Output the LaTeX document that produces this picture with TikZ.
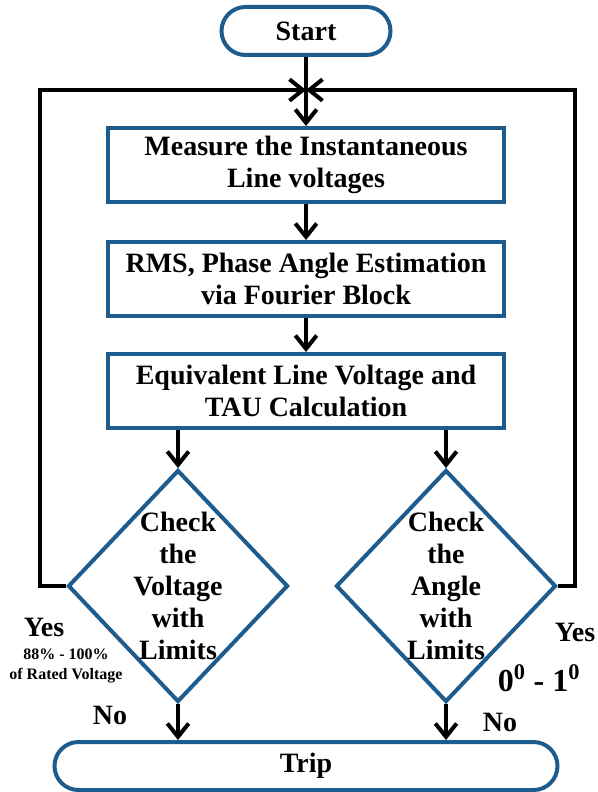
\documentclass[tikz,border=0pt]{standalone}
\usepackage{fontspec}
\setmainfont{Liberation Serif}
\usepackage{tikz}
\usetikzlibrary{shapes.geometric, arrows.meta, positioning, calc}
\definecolor{flowblue}{RGB}{31, 92, 142}

\tikzset{
    txt/.style={font=\bfseries\fontsize{21}{23.5}\selectfont, align=center},
    terminal/.style={draw=flowblue, line width=3pt, rounded corners=18pt,
        minimum height=36pt, inner sep=0pt, txt},
    process/.style={draw=flowblue, line width=3pt, minimum width=297pt,
        minimum height=55.5pt, inner sep=0pt, txt},
    decision/.style={diamond, draw=flowblue, line width=3pt, inner sep=0pt,
        minimum width=165pt, minimum height=174pt},
    flow/.style={line width=3pt, -{Straight Barb[length=10pt, width=16pt]}}
}

\begin{document}
\begin{tikzpicture}[x=0.75pt, y=-0.75pt]
    \useasboundingbox (0,0) rectangle (597,792);

    % blocks
    \node[terminal, minimum width=126.75pt] (start) at (306,31) {Start};
    \node[process] (meas) at (306,165) {Measure the Instantaneous\\Line voltages};
    \node[process] (rms) at (306,279) {RMS, Phase Angle Estimation\\via Fourier Block};
    \node[process] (equiv) at (306,391) {Equivalent Line Voltage and\\TAU Calculation};

    \node[decision] (vchk) at (178,586) {};
    \node[txt, font=\bfseries\fontsize{21}{24}\selectfont] (vchktext) at (vchk.center)
        {Check\\the\\Voltage\\with\\Limits};
    \node[decision] (achk) at (446,586) {};
    \node[txt, font=\bfseries\fontsize{21}{24}\selectfont] (achktext) at (achk.center)
        {Check\\the\\Angle\\with\\Limits};

    \node[terminal, minimum width=377.25pt] (trip) at (306,766) {Trip};

    \coordinate (join) at (306,90);

    % connectors
    \draw[flow] (start) -- (meas);
    \draw[flow] (meas) -- (rms);
    \draw[flow] (rms) -- (equiv);
    \draw[flow] (vchk.north |- equiv.south) -- (vchk.north);
    \draw[flow] (achk.north |- equiv.south) -- (achk.north);
    \draw[flow] (vchk.south) -- (vchk.south |- trip.north);
    \draw[flow] (achk.south) -- (achk.south |- trip.north);

    % feedback loops
    \draw[flow] (vchk.west) -- ++(-26,0) |- (join);
    \draw[flow] (achk.east) -- ++(17,0) |- (join);

    % labels
    \node[txt] (vyes) at (44,627) {Yes};
    \node[font=\bfseries\fontsize{12}{14.5}\selectfont, align=center] (vrange) at (66,666)
        {88\% - 100\%\\of Rated Voltage};
    \node[txt] (vno) at (110,715) {No};
    \node[txt] (ayes) at (575,632) {Yes};
    \node[txt, font=\bfseries\fontsize{24}{28}\selectfont] (arange) at (539,678)
        {0\textsuperscript{0} - 1\textsuperscript{0}};
    \node[txt] (ano) at (500,722) {No};
\end{tikzpicture}
\end{document}
